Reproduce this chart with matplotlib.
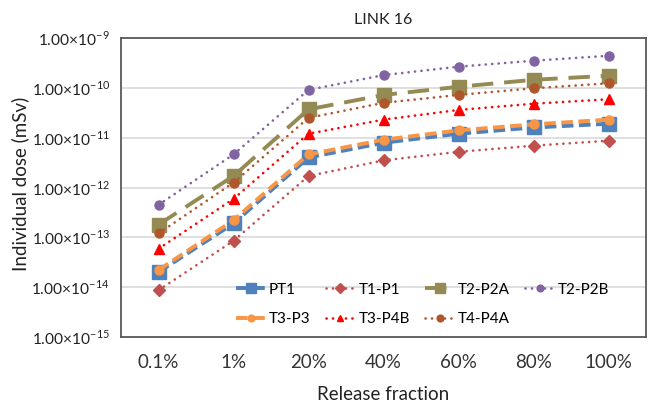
import matplotlib
matplotlib.use('Agg')
from matplotlib import pyplot, font_manager
from matplotlib.ticker import FixedLocator, NullLocator

categories = ['0.1%', '1%', '20%', '40%', '60%', '80%', '100%']

pt1 = [2.0e-14, 1.9e-13, 4.0e-12, 7.9e-12, 1.2e-11, 1.6e-11, 1.9e-11]
t1_p1 = [8.7e-15, 8.5e-14, 1.7e-12, 3.5e-12, 5.2e-12, 6.9e-12, 8.7e-12]
t2_p2a = [1.8e-13, 1.7e-12, 3.7e-11, 7.2e-11, 1.05e-10, 1.45e-10, 1.75e-10]
t2_p2b = [4.5e-13, 4.6e-12, 9.1e-11, 1.8e-10, 2.66e-10, 3.5e-10, 4.4e-10]
t3_p3 = [2.2e-14, 2.2e-13, 4.6e-12, 9.1e-12, 1.4e-11, 1.85e-11, 2.3e-11]
t3_p4b = [5.9e-14, 5.9e-13, 1.2e-11, 2.3e-11, 3.6e-11, 4.8e-11, 5.9e-11]
t4_p4a = [1.2e-13, 1.25e-12, 2.5e-11, 5.0e-11, 7.2e-11, 9.8e-11, 1.23e-10]

pyplot.rcParams['font.family'] = ['Lato', 'DejaVu Sans']
pyplot.rcParams['mathtext.fontset'] = 'custom'
pyplot.rcParams['mathtext.rm'] = 'Lato'

# the y tick labels are set in a condensed face in the original
try:
    font_manager.findfont('Liberation Sans Narrow', fallback_to_default=False)
    tick_font, tick_size = 'Liberation Sans Narrow', 13
except ValueError:
    tick_font, tick_size = 'Lato', 11.2

fig = pyplot.figure(figsize=(6.54, 4.07), dpi=100)
ax = fig.add_axes([121 / 654, 1 - 337 / 407, 525 / 654, 299 / 407])

x = list(range(len(categories)))
dots = (0, (0.05, 2.4))
series = [
    ('PT1', pt1, '#4F81BD', (0, (3.0, 1.4)), 's', 9.5, 2.8, 'butt'),
    ('T1-P1', t1_p1, '#C0504D', dots, 'D', 6.5, 1.9, 'round'),
    ('T2-P2A', t2_p2a, '#948A54', (0, (5.5, 2.8)), 's', 9.5, 2.8, 'butt'),
    ('T2-P2B', t2_p2b, '#8064A2', dots, 'o', 6.5, 1.9, 'round'),
    ('T3-P3', t3_p3, '#F79646', (0, (3.0, 1.4)), 'o', 6.5, 2.8, 'butt'),
    ('T3-P4B', t3_p4b, '#FF0000', dots, '^', 6.5, 1.9, 'round'),
    ('T4-P4A', t4_p4a, '#B0562B', dots, 'o', 6.5, 1.9, 'round'),
]
handles = {}
for label, values, color, ls, marker, ms, lw, cap in series:
    line, = ax.plot(x, values, linestyle=ls, color=color, marker=marker,
                    ms=ms, lw=lw, label=label, dash_capstyle=cap)
    handles[label] = line

ax.set_yscale('log')
ax.set_ylim(1e-15, 1e-9)
ax.set_xlim(-0.5, len(categories) - 0.5)
ax.set_xticks(x)
ax.set_xticklabels(categories, fontsize=13.5, color='#333333')
decades = [10.0 ** e for e in range(-15, -8)]
ax.yaxis.set_major_locator(FixedLocator(decades))
ax.yaxis.set_minor_locator(NullLocator())
ax.set_yticklabels(['1.00×10$^{\u2212%d}$' % -e for e in range(-15, -8)],
                   fontsize=tick_size, color='#222222', family=tick_font)
ax.tick_params(length=0, pad=8)
ax.tick_params(axis='x', pad=12)
ax.grid(axis='y', color='#D9D9D9', lw=1.2)
ax.set_axisbelow(True)
for sp in ax.spines.values():
    sp.set_color('#595959')
    sp.set_linewidth(1.3)

ax.set_title('LINK 16', fontsize=11.5, color='#222222', pad=10)
ax.set_xlabel('Release fraction', fontsize=13.5, color='#222222',
              labelpad=11)
ax.set_ylabel('Individual dose (mSv)', fontsize=13.5, color='#222222',
              va='center')
ax.yaxis.set_label_coords((20 - 121) / 525, (337 - 184) / 299)

# row-major order for a 4-column legend
order = ['PT1', 'T3-P3', 'T1-P1', 'T3-P4B', 'T2-P2A', 'T4-P4A', 'T2-P2B']
ax.legend([handles[k] for k in order], order, loc='lower left', ncol=4,
          frameon=False, fontsize=11, handlelength=1.9, columnspacing=1.0,
          handletextpad=0.25, labelspacing=1.0, markerscale=0.75,
          borderpad=0, borderaxespad=0,
          bbox_to_anchor=((236 - 121) / 525, 11 / 299))

fig.savefig('out.png', dpi=100)
pyplot.close()
